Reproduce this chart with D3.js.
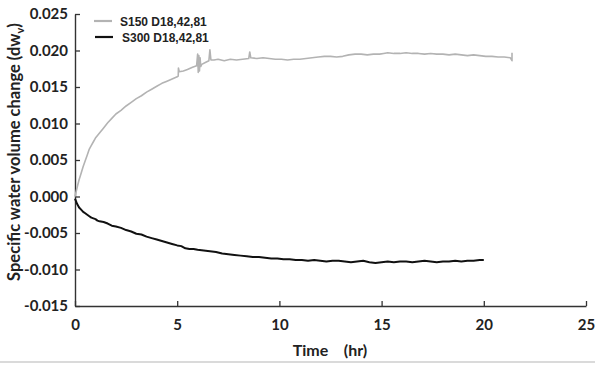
<!DOCTYPE html>
<html>
<head>
<meta charset="utf-8">
<script src="https://cdn.jsdelivr.net/npm/d3@7"></script>
<style>
  html, body { margin: 0; padding: 0; background: #fff; }
  svg { display: block; }
</style>
</head>
<body>
<svg id="chart" width="595" height="365"></svg>
<script>
// Time axis (hr) and series values (specific water volume change, dw_v)
const s150Time = [0, 0.1, 0.2, 0.3, 0.4, 0.5, 0.6, 0.7, 0.8, 0.9, 1.0, 1.2, 1.4, 1.6, 1.8, 2.0,
  2.25, 2.5, 2.75, 3.0, 3.25, 3.5, 3.75, 4.0, 4.25, 4.5, 4.75, 5.0, 5.05, 5.06, 5.1, 5.3, 5.5,
  5.75, 5.95, 6.0, 6.03, 6.06, 6.09, 6.12, 6.15, 6.2, 6.4, 6.55, 6.6, 6.65, 6.8, 7.0, 7.3, 7.6,
  7.9, 8.2, 8.5, 8.55, 8.6, 8.9, 9.2, 9.5, 9.8, 10.1, 10.4, 10.7, 11.0, 11.3, 11.6, 11.9, 12.2,
  12.5, 12.8, 13.1, 13.4, 13.7, 14.0, 14.3, 14.6, 14.9, 15.1, 15.3, 15.6, 15.9, 16.2, 16.5,
  16.8, 17.1, 17.4, 17.7, 18.0, 18.3, 18.6, 18.9, 19.2, 19.5, 19.8, 20.1, 20.4, 20.7, 21.0,
  21.3, 21.38, 21.38];
const s150Value = [0.0000, 0.0012, 0.0023, 0.0032, 0.0041, 0.0049, 0.0057, 0.0065, 0.0070,
  0.0075, 0.0080, 0.0087, 0.0094, 0.0101, 0.0107, 0.0113, 0.0118, 0.0124, 0.0129, 0.0134,
  0.0138, 0.0143, 0.0147, 0.0151, 0.0155, 0.0158, 0.0161, 0.0164, 0.0165, 0.0176, 0.0171,
  0.0172, 0.0174, 0.0177, 0.0179, 0.0195, 0.0170, 0.0193, 0.0172, 0.0190, 0.0178, 0.0181,
  0.0184, 0.0186, 0.0201, 0.0187, 0.0187, 0.0188, 0.0186, 0.0188, 0.0187, 0.0188, 0.0189,
  0.0198, 0.0190, 0.0189, 0.0190, 0.0189, 0.0188, 0.0188, 0.0187, 0.0188, 0.0188, 0.0189,
  0.0190, 0.0191, 0.0192, 0.0192, 0.0191, 0.0192, 0.0194, 0.0195, 0.0195, 0.0194, 0.0195,
  0.0195, 0.0196, 0.0197, 0.0196, 0.0196, 0.0197, 0.0196, 0.0196, 0.0195, 0.0196, 0.0195,
  0.0195, 0.0194, 0.0195, 0.0194, 0.0193, 0.0194, 0.0193, 0.0192, 0.0192, 0.0191, 0.0191,
  0.0190, 0.0186, 0.0197];

const s300Time = [0, 0.1, 0.2, 0.3, 0.4, 0.5, 0.6, 0.7, 0.8, 0.9, 1.0, 1.1, 1.2, 1.4, 1.6, 1.8,
  2.0, 2.25, 2.5, 2.75, 3.0, 3.25, 3.5, 3.75, 4.0, 4.25, 4.5, 4.75, 5.0, 5.2, 5.4, 5.6, 5.8, 6.0,
  6.3, 6.6, 6.9, 7.2, 7.5, 7.8, 8.1, 8.4, 8.7, 9.0, 9.3, 9.6, 9.9, 10.2, 10.5, 10.8, 11.1, 11.4,
  11.7, 12.0, 12.3, 12.6, 12.9, 13.2, 13.5, 13.8, 14.1, 14.4, 14.7, 15.0, 15.3, 15.6, 15.9,
  16.2, 16.5, 16.8, 17.1, 17.4, 17.7, 18.0, 18.3, 18.6, 18.9, 19.2, 19.5, 19.8, 20.0];
const s300Value = [-0.0003, -0.0010, -0.0015, -0.0018, -0.0021, -0.0023, -0.0025, -0.0027,
  -0.0029, -0.0030, -0.0031, -0.0033, -0.0034, -0.0035, -0.0037, -0.0040, -0.0041, -0.0043,
  -0.0046, -0.0048, -0.0051, -0.0052, -0.0055, -0.0057, -0.0059, -0.0061, -0.0063, -0.0065,
  -0.0067, -0.0068, -0.0071, -0.0072, -0.0072, -0.0073, -0.0074, -0.0075, -0.0076, -0.0078,
  -0.0079, -0.0080, -0.0081, -0.0082, -0.0083, -0.0083, -0.0084, -0.0085, -0.0085, -0.0086,
  -0.0086, -0.0087, -0.0087, -0.0088, -0.0087, -0.0088, -0.0089, -0.0088, -0.0088, -0.0089,
  -0.0090, -0.0089, -0.0088, -0.0090, -0.0091, -0.0090, -0.0089, -0.0090, -0.0089, -0.0089,
  -0.0090, -0.0089, -0.0088, -0.0089, -0.0090, -0.0089, -0.0089, -0.0088, -0.0089, -0.0088,
  -0.0088, -0.0087, -0.0087];

const seriesNames = ["S150 D18,42,81", "S300 D18,42,81"];
const seriesColors = ["#b3b3b3", "#111111"];
const xTicks = [0, 5, 10, 15, 20, 25];
const yTicks = [-0.015, -0.010, -0.005, 0.000, 0.005, 0.010, 0.015, 0.020, 0.025];

const svg = d3.select("#chart");
const tickFont = "Lato, 'Open Sans', sans-serif";

const x = d3.scaleLinear().domain([0, 25]).range([75, 586]);
const y = d3.scaleLinear().domain([-0.015, 0.025]).range([306, 14]);

// thin rule along the bottom of the figure
svg.append("line")
  .attr("x1", 0).attr("x2", 595).attr("y1", 362).attr("y2", 362)
  .attr("stroke", "#b5b5b5").attr("stroke-width", 1.2);

// axes with inward ticks
const xAxis = svg.append("g")
  .attr("transform", `translate(0,${y(-0.015)})`)
  .call(d3.axisBottom(x).tickValues(xTicks).tickSizeInner(-5).tickSizeOuter(0)
    .tickPadding(13).tickFormat(d3.format("d")));
const yAxis = svg.append("g")
  .attr("transform", `translate(${x(0)},0)`)
  .call(d3.axisLeft(y).tickValues(yTicks).tickSizeInner(-5).tickSizeOuter(0)
    .tickPadding(7).tickFormat(d3.format(".3f")));

[xAxis, yAxis].forEach(g => {
  g.select(".domain").attr("stroke", "#333").attr("stroke-width", 1.4);
  g.selectAll(".tick line").attr("stroke", "#333").attr("stroke-width", 1.3);
  g.selectAll(".tick text")
    .attr("fill", "#222")
    .style("font-family", tickFont)
    .style("font-weight", "700")
    .style("font-size", "15px");
});
yAxis.selectAll(".tick text").text(d => d3.format(".3f")(d).replace("−", "-"));

// data lines
const line = d3.line().x(d => x(d[0])).y(d => y(d[1]));
const s150 = s150Time.map((t, i) => [t, s150Value[i]]);
const s300 = s300Time.map((t, i) => [t, s300Value[i]]);

svg.append("path").datum(s150)
  .attr("d", line).attr("fill", "none")
  .attr("stroke", seriesColors[0]).attr("stroke-width", 1.6)
  .attr("stroke-linejoin", "round");
svg.append("path").datum(s300)
  .attr("d", line).attr("fill", "none")
  .attr("stroke", seriesColors[1]).attr("stroke-width", 2)
  .attr("stroke-linejoin", "round");

// legend
const legend = svg.append("g");
const legendRows = [
  { y: 21, x1: 94, x2: 112, tx: 120 },
  { y: 37, x1: 95, x2: 113, tx: 122 }
];
legendRows.forEach((r, i) => {
  legend.append("line")
    .attr("x1", r.x1).attr("x2", r.x2).attr("y1", r.y).attr("y2", r.y)
    .attr("stroke", seriesColors[i]).attr("stroke-width", 2.2);
  legend.append("text")
    .attr("x", r.tx).attr("y", r.y + 4.5)
    .attr("fill", "#222")
    .style("font-family", "'Liberation Sans', Arial, sans-serif")
    .style("font-weight", "700")
    .style("font-size", "12px")
    .text(seriesNames[i]);
});

// axis titles
svg.append("text")
  .attr("x", 330).attr("y", 356)
  .attr("text-anchor", "middle")
  .attr("fill", "#222")
  .style("font-family", tickFont)
  .style("font-weight", "700")
  .style("font-size", "16px")
  .style("white-space", "pre")
  .text("Time    (hr)");

const yTitle = svg.append("text")
  .attr("transform", "translate(20,152) rotate(-90)")
  .attr("text-anchor", "middle")
  .attr("fill", "#222")
  .style("font-family", tickFont)
  .style("font-weight", "700")
  .style("font-size", "16.5px");
yTitle.append("tspan").text("Specific water volume change (dw");
yTitle.append("tspan").attr("dy", 4).style("font-size", "11px").text("v");
yTitle.append("tspan").attr("dy", -4).text(")");
</script>
</body>
</html>
